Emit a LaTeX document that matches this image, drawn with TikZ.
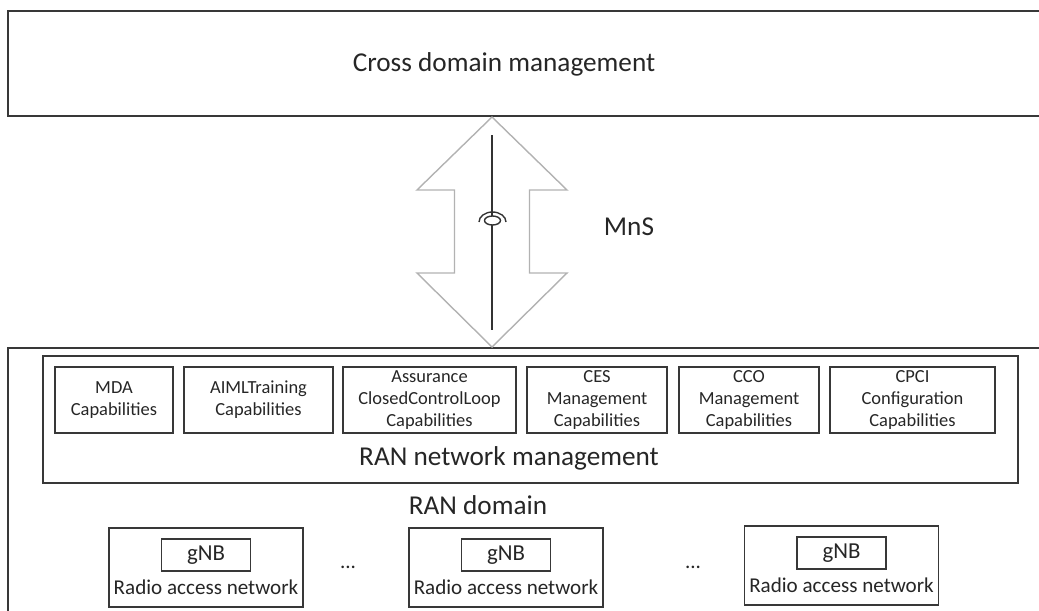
\documentclass[tikz,border=0pt]{standalone}
\usepackage{fontspec}
\setmainfont{Carlito}
\usepackage{tikz}
\usetikzlibrary{positioning}

\begin{document}
\begin{tikzpicture}[
    frame/.style={rectangle, draw=black!78, line width=1pt, inner sep=0pt},
    capbox/.style={rectangle, draw=black!78, line width=0.8pt, minimum height=13.2mm,
      inner sep=1pt, align=center, text=black!85, font=\fontsize{10.5}{12.6}\selectfont},
    twoline/.style={text height=19.5pt},
    ranbox/.style={rectangle, draw=black!78, line width=0.8pt, minimum width=38.8mm, minimum height=15.8mm},
    gnbbox/.style={rectangle, draw=black!78, line width=0.8pt, minimum width=17.8mm, minimum height=6.4mm,
      inner sep=0pt, text=black!85, font=\fontsize{13}{15}\selectfont},
    radiotxt/.style={text=black!85, font=\fontsize{12}{14}\selectfont},
    bigtxt/.style={text=black!85, font=\fontsize{15.5}{18}\selectfont}
  ]
    \useasboundingbox (0,0) rectangle (20.78,-12.2);
    \clip (0,0) rectangle (20.78,-12.2);

    % domains
    \node[frame, minimum width=20.74cm, minimum height=2.1cm] (xdm) at (10.53,-1.27) {};
    \node[bigtxt] (xdmtxt) at (10.08,-1.28) {Cross domain management};
    \node[frame, minimum width=20.74cm, minimum height=5.44cm] (ran) at (10.53,-9.68) {};
    \node[frame, minimum width=19.5cm, minimum height=2.54cm] (rnm) at (10.61,-8.39) {};

    % MnS arrow
    \draw[black!30, line width=0.8pt, line join=miter]
      (9.84,-2.34) -- (11.34,-3.8) -- (10.59,-3.8) -- (10.59,-5.46) -- (11.34,-5.46)
      -- (9.84,-6.94) -- (8.34,-5.46) -- (9.09,-5.46) -- (9.09,-3.8) -- (8.34,-3.8) -- cycle;
    \draw[black!80, line width=0.8pt] (9.84,-2.7) -- (9.84,-6.6);
    \draw[black!80, line width=0.8pt, fill=white] (9.85,-4.41) ellipse (0.16 and 0.09);
    \draw[black!80, line width=0.8pt] (9.58,-4.44) arc (180:0:0.27 and 0.2);
    \node[bigtxt] (mns) at (12.58,-4.53) {MnS};

    % capabilities
    \node[capbox, twoline, minimum width=23.6mm] (mda)  at (2.28,-8.0)  {MDA\\Capabilities};
    \node[capbox, twoline, minimum width=29.8mm] (aiml) at (5.17,-8.0)  {AIMLTraining\\Capabilities};
    \node[capbox, minimum width=34.6mm] (ccl)  at (8.59,-8.0)  {Assurance\\ClosedControlLoop\\Capabilities};
    \node[capbox, minimum width=28mm]   (ces)  at (11.94,-8.0) {CES\\Management\\Capabilities};
    \node[capbox, minimum width=28mm]   (cco)  at (14.98,-8.0) {CCO\\Management\\Capabilities};
    \node[capbox, minimum width=33mm]   (cpci) at (18.25,-8.0) {CPCI\\Configuration\\Capabilities};
    \node[bigtxt] (rnmtxt) at (10.18,-9.16) {RAN network management};
    \node[bigtxt] (rantxt) at (9.56,-10.11) {RAN domain};

    % radio access networks
    \node[ranbox] (r1) at (4.12,-11.35) {};
    \node[ranbox] (r2) at (10.12,-11.35) {};
    \node[ranbox] (r3) at (16.83,-11.31) {};
    \foreach \r in {1,2,3} {
      \node[gnbbox, below=2.2mm of r\r.north] (g\r) {gNB};
      \node[radiotxt, above=1.4mm of r\r.south] (t\r) {Radio access network};
    }
    \node[radiotxt] (dots1) at (6.96,-11.34) {...};
    \node[radiotxt] (dots2) at (13.86,-11.34) {...};
\end{tikzpicture}
\end{document}
